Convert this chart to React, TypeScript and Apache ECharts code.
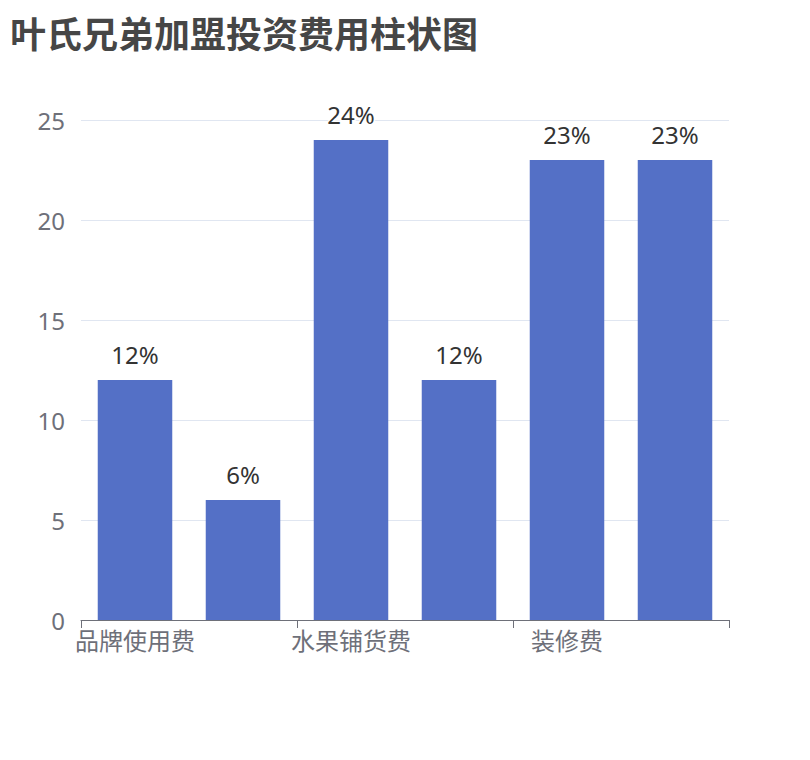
import React, { useEffect, useRef } from "react";
import * as echarts from "echarts";

const titleText = "叶氏兄弟加盟投资费用柱状图";
const categories = ["品牌使用费", "加盟费", "水果铺货费", "设备费", "装修费", "流动资金"];
const values = [12, 6, 24, 12, 23, 23];
const yTicks = [0, 5, 10, 15, 20, 25];

const FONT = "'Noto Sans', 'Noto Sans CJK SC', sans-serif";

export default function App() {
  const ref = useRef<HTMLDivElement>(null);
  useEffect(() => {
    if (!ref.current) return;
    const chart = echarts.init(ref.current, undefined, { renderer: "svg" });
    chart.setOption({
      animation: false,
      textStyle: { fontFamily: FONT },
      title: {
        text: titleText,
        left: 0,
        top: 0,
        padding: [4, 0, 0, 2],
        textStyle: {
          fontSize: 36,
          lineHeight: 40,
          fontWeight: "bold",
          color: "#464646",
          fontFamily: "'Noto Sans CJK SC', sans-serif",
        },
      },
      grid: { left: 73, right: 73, top: 112, bottom: 132, containLabel: false },
      xAxis: {
        type: "category",
        data: categories,
        axisTick: { show: true, interval: 1, length: 8, lineStyle: { color: "#6e7079" } },
        axisLabel: { interval: 1, fontSize: 24, color: "#6e7079", margin: 8, fontFamily: FONT },
        axisLine: { show: true, lineStyle: { color: "#6e7079" } },
      },
      yAxis: {
        type: "value",
        min: yTicks[0],
        max: yTicks[yTicks.length - 1],
        interval: 5,
        axisLabel: { fontSize: 24, color: "#6e7079", margin: 16, fontFamily: FONT },
        splitLine: { lineStyle: { color: "#e0e6f1" } },
      },
      series: [
        {
          type: "bar",
          data: values,
          barWidth: "69%",
          itemStyle: { color: "#5470c6" },
          label: {
            show: true,
            position: "top",
            formatter: "{c}%",
            fontSize: 24,
            color: "#333",
            fontFamily: FONT,
            textBorderColor: "#fff",
            textBorderWidth: 3,
            distance: 14,
          },
        },
      ],
    });
    return () => chart.dispose();
  }, []);
  return <div ref={ref} style={{ width: 794, height: 744 }} />;
}
